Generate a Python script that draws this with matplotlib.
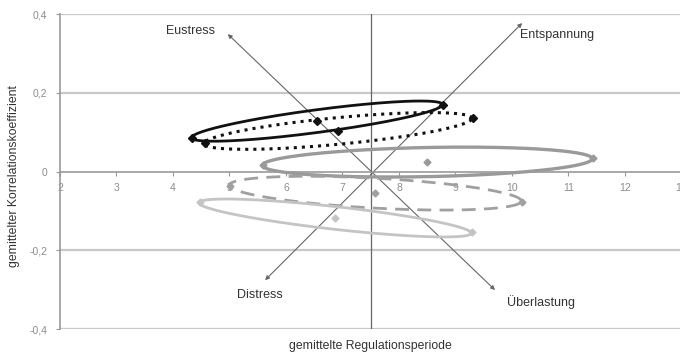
import numpy as np
import matplotlib
matplotlib.use("Agg")
import matplotlib.pyplot as plt

plt.rcParams['font.family'] = ['Liberation Sans', 'DejaVu Sans']

# Ellipse data: left end, centre, right end (x, y) and vertical half-height at the centre
ell_left_x = [4.34, 4.57, 5.59, 5.01, 4.48]
ell_left_y = [0.085, 0.072, 0.017, -0.037, -0.077]
ell_center_x = [6.55, 6.92, 8.50, 7.58, 6.87]
ell_center_y = [0.128, 0.103, 0.024, -0.055, -0.118]
ell_right_x = [8.78, 9.31, 11.43, 10.18, 9.30]
ell_right_y = [0.169, 0.136, 0.034, -0.077, -0.154]
ell_half_height = [0.029, 0.034, 0.037, 0.038, 0.029]

ell_colors = ['#111111', '#111111', '#9a9a9a', '#a0a0a0', '#c4c4c4']
ell_styles = ['-', ':', '-', (0, (5, 3)), '-']
ell_widths = [2.0, 2.2, 2.4, 2.0, 2.0]
ell_marker_sizes = [4, 4, 3.5, 3.5, 3.5]

# Direction axes through the reference point
axis_origin = (7.5, 0.0)
arrow_start_x = [4.97, 5.63]
arrow_start_y = [0.349, -0.276]
arrow_end_x = [9.70, 10.18]
arrow_end_y = [-0.301, 0.377]

quadrant_labels = ['Eustress', 'Entspannung', 'Distress', 'Überlastung']
quadrant_label_x = [4.74, 10.14, 5.13, 9.91]
quadrant_label_y = [0.358, 0.347, -0.314, -0.331]

x_ticks = list(range(2, 14))
y_ticks = [0.4, 0.2, 0.0, -0.2, -0.4]
y_tick_labels = ['0,4', '0,2', '0', '-0,2', '-0,4']

fig = plt.figure(figsize=(6.8, 3.52), dpi=100)
ax = fig.add_axes([0.0882, 0.0653, 0.914, 0.8949])
ax.set_xlim(2, 13)
ax.set_ylim(-0.4, 0.4)

for s in ['top', 'right']:
    ax.spines[s].set_visible(False)
ax.spines['bottom'].set_position(('data', 0))
ax.spines['bottom'].set_color('#999999')
ax.spines['left'].set_color('#999999')
ax.spines['bottom'].set_linewidth(1.2)
ax.spines['left'].set_linewidth(1.2)

# horizontal gridlines
for yv in [0.4, 0.2, -0.2, -0.4]:
    ax.axhline(yv, color='#c8c8c8', lw=1.6, zorder=0)

ax.set_xticks(x_ticks)
ax.set_xticklabels([str(v) for v in x_ticks])
ax.set_yticks(y_ticks)
ax.set_yticklabels(y_tick_labels)
ax.tick_params(axis='x', direction='out', length=3, pad=5, colors='#999999',
               labelsize=7.5, labelcolor='#8c8c8c')
ax.tick_params(axis='y', direction='out', length=3, pad=6, colors='#999999',
               labelsize=7.5, labelcolor='#8c8c8c')

# vertical reference line
ax.axvline(axis_origin[0], color='#666666', lw=0.9, zorder=1)

# ellipses
t = np.linspace(0, 2 * np.pi, 300)
for i in range(len(ell_center_x)):
    cx, cy = ell_center_x[i], ell_center_y[i]
    ax_vec = ((ell_right_x[i] - ell_left_x[i]) / 2, (ell_right_y[i] - ell_left_y[i]) / 2)
    xs = cx + np.cos(t) * ax_vec[0]
    ys = cy + np.cos(t) * ax_vec[1] + np.sin(t) * ell_half_height[i]
    ax.plot(xs, ys, color=ell_colors[i], ls=ell_styles[i], lw=ell_widths[i], zorder=3)
    mc = ell_colors[i]
    ax.plot([ell_left_x[i], ell_center_x[i], ell_right_x[i]],
            [ell_left_y[i], ell_center_y[i], ell_right_y[i]],
            ls='none', marker='D', ms=ell_marker_sizes[i], color=mc, zorder=4)

# double headed direction arrows
for i in range(2):
    ax.annotate('', xy=(arrow_end_x[i], arrow_end_y[i]),
                xytext=(arrow_start_x[i], arrow_start_y[i]),
                arrowprops=dict(arrowstyle='<|-|>', color='#666666', lw=0.8,
                                mutation_scale=6, shrinkA=0, shrinkB=0),
                zorder=2)

for lab, lx, ly in zip(quadrant_labels, quadrant_label_x, quadrant_label_y):
    ha = 'right' if lab == 'Eustress' else 'left'
    ax.text(lx, ly, lab, ha=ha, va='center', fontsize=9, color='#333333')

fig.text(0.545, 0.016, 'gemittelte Regulationsperiode', ha='center', va='center',
         fontsize=8.8, color='#333333')
fig.text(0.021, 0.5, 'gemittelter Korrelationskoeffizient', ha='center', va='center',
         rotation=90, fontsize=8.8, color='#333333')

fig.savefig('out.png', dpi=100)
